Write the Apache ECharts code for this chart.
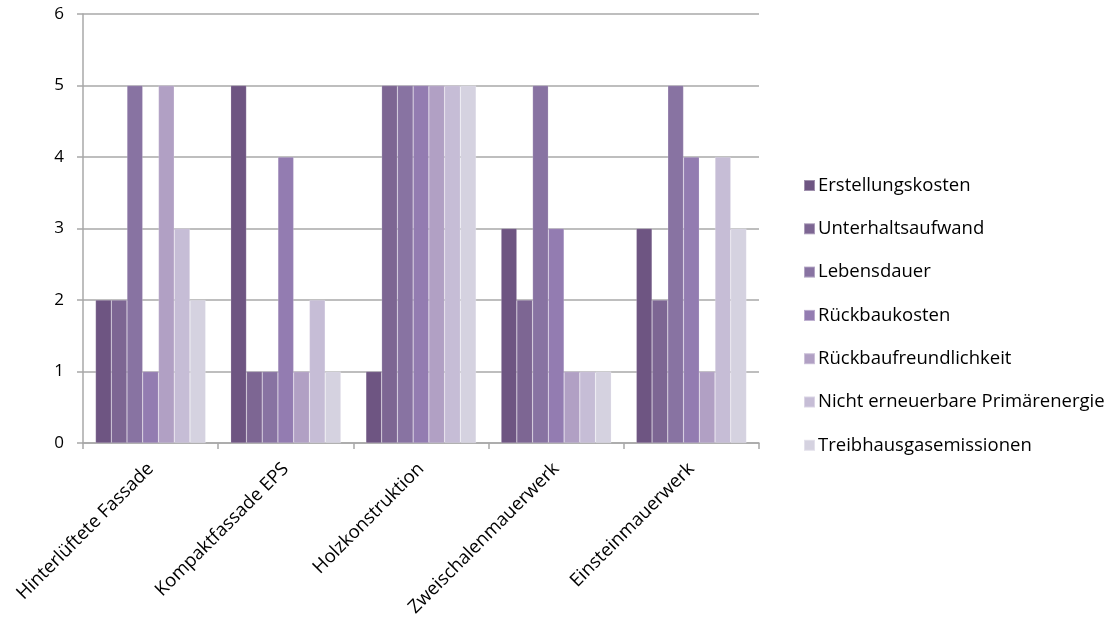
<!DOCTYPE html>
<html>
<head>
<meta charset="utf-8">
<script src="https://cdn.jsdelivr.net/npm/echarts@6/dist/echarts.min.js"></script>
<style>
  html, body { margin: 0; padding: 0; background: #fff; }
  #chart { width: 1116px; height: 624px; }
</style>
</head>
<body>
<div id="chart"></div>
<script>
// Fassadensysteme und ihre Bewertung (Skala 0–6)
const categories = ['Hinterlüftete Fassade', 'Kompaktfassade EPS', 'Holzkonstruktion', 'Zweischalenmauerwerk', 'Einsteinmauerwerk'];
const seriesNames = ['Erstellungskosten', 'Unterhaltsaufwand', 'Lebensdauer', 'Rückbaukosten', 'Rückbaufreundlichkeit', 'Nicht erneuerbare Primärenergie', 'Treibhausgasemissionen'];
const erstellungskosten = [2, 5, 1, 3, 3];
const unterhaltsaufwand = [2, 1, 5, 2, 2];
const lebensdauer = [5, 1, 5, 5, 5];
const rueckbaukosten = [1, 4, 5, 3, 4];
const rueckbaufreundlichkeit = [5, 1, 5, 1, 1];
const primaerenergie = [3, 2, 5, 1, 4];
const treibhausgas = [2, 1, 5, 1, 3];
const yTicks = [0, 1, 2, 3, 4, 5, 6];

const values = [erstellungskosten, unterhaltsaufwand, lebensdauer, rueckbaukosten, rueckbaufreundlichkeit, primaerenergie, treibhausgas];
const colors = ['#6e5582', '#7d6693', '#8873a2', '#937cb1', '#b1a0c4', '#c6bdd6', '#d5d2e0'];

const font = '"Open Sans", "Liberation Sans", sans-serif';
const chart = echarts.init(document.getElementById('chart'));
chart.setOption({
  animation: false,
  color: colors,
  textStyle: { fontFamily: font },
  grid: { left: 83, right: 357, top: 14, bottom: 181, containLabel: false },
  legend: {
    orient: 'vertical',
    left: 798,
    top: 168.5,
    itemWidth: 11,
    itemHeight: 11,
    itemGap: 19.3,
    icon: 'rect',
    textStyle: { fontFamily: font, fontSize: 18.5, color: '#000', lineHeight: 24, padding: [0, 0, 0, -2] },
    data: seriesNames
  },
  xAxis: {
    type: 'category',
    data: categories,
    axisLine: { lineStyle: { color: '#a8a8a8', width: 1.5 } },
    axisTick: { show: true, length: 6, lineStyle: { color: '#a8a8a8', width: 1.5 } },
    axisLabel: { rotate: 45, fontSize: 18.5, color: '#000', margin: 23, interval: 0, fontFamily: font }
  },
  yAxis: {
    type: 'value',
    min: yTicks[0],
    max: yTicks[yTicks.length - 1],
    interval: 1,
    axisLine: { show: true, lineStyle: { color: '#a8a8a8', width: 1.5 } },
    axisTick: { show: true, length: 6, lineStyle: { color: '#a8a8a8', width: 1.5 } },
    axisLabel: { fontSize: 17, color: '#000', margin: 19, fontFamily: font },
    splitLine: { lineStyle: { color: '#a8a8a8', width: 1.5 } }
  },
  series: seriesNames.map((name, i) => ({
    name: name,
    type: 'bar',
    data: values[i],
    barGap: '0%',
    barCategoryGap: '18.5%',
    itemStyle: { color: colors[i], borderColor: 'rgba(255,255,255,0.35)', borderWidth: 0.5 }
  }))
});
</script>
</body>
</html>
